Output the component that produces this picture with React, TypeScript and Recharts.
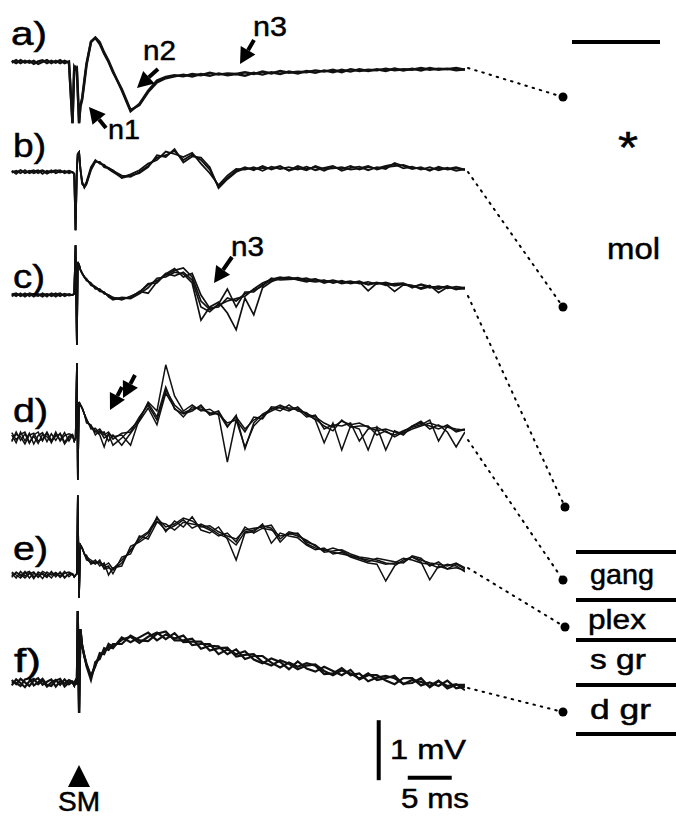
import React from 'react';
import { LineChart, Line, XAxis, YAxis, ReferenceLine } from 'recharts';

// sample times in ms relative to the stimulus (SM)
const time = [
  -7.5, -7, -6.5, -6, -5.5, -5, -4.5, -4, -3.5, -3, -2.5, -2, -1.5, -1,
  -0.6, -0.4, -0.25, -0.1, 0, 0.15, 0.3, 0.5, 0.75,
  1, 1.5, 2, 2.5, 3, 3.5, 4,
  5, 6, 7, 8, 9, 10, 11, 12, 13, 14,
  15, 16, 17, 18, 19, 20, 21, 22, 23, 24,
  25, 26, 27, 28, 29, 30, 31, 32, 33, 34,
  35, 36, 37, 38, 39, 40, 41, 42, 43, 44,
];

// field potentials in mV
const traceA1 = [
  0.02, -0.02, 0.03, -0.01, 0.02, -0.03, 0.01, 0.03, -0.02, 0.02, -0.01, 0.03, -0.02, 0.01,
  -1.02, -0.1, -0.08, -0.15, -0.45, -1.02, -0.75, -0.63, -0.35,
  -0.05, 0.33, 0.4, 0.3, 0.14, 0.0, -0.17,
  -0.45, -0.8, -0.72, -0.5, -0.34, -0.27, -0.24, -0.21, -0.24, -0.2,
  -0.23, -0.19, -0.22, -0.2, -0.23, -0.18, -0.21, -0.17, -0.2, -0.16,
  -0.19, -0.15, -0.18, -0.14, -0.17, -0.13, -0.16, -0.12, -0.15, -0.12,
  -0.15, -0.11, -0.14, -0.11, -0.14, -0.1, -0.13, -0.11, -0.14, -0.12,
];
const traceA2 = [
  -0.01, 0.03, -0.02, 0.02, -0.01, 0.02, -0.03, 0.0, 0.03, -0.02, 0.02, -0.02, 0.02, -0.01,
  -1.02, -0.08, -0.12, -0.1, -0.5, -1.02, -0.72, -0.6, -0.3,
  -0.02, 0.34, 0.41, 0.33, 0.16, 0.02, -0.15,
  -0.47, -0.82, -0.7, -0.48, -0.31, -0.25, -0.22, -0.24, -0.2, -0.22,
  -0.18, -0.21, -0.19, -0.2, -0.17, -0.2, -0.16, -0.19, -0.15, -0.18,
  -0.16, -0.17, -0.14, -0.16, -0.13, -0.17, -0.12, -0.15, -0.13, -0.14,
  -0.11, -0.14, -0.12, -0.13, -0.1, -0.13, -0.11, -0.12, -0.1, -0.13,
];

const traceB1 = [
  0.02, -0.03, 0.03, -0.02, 0.01, 0.03, -0.02, 0.02, -0.03, 0.01, 0.03, -0.01, 0.02, -0.02,
  0.0, -0.03, -0.97, 0.05, 0.3, 0.33, 0.05, -0.18, -0.25,
  -0.18, 0.05, 0.18, 0.16, 0.1, 0.07, 0.02,
  -0.06, -0.08, 0.0, 0.1, 0.24, 0.28, 0.35, 0.2, 0.29, 0.2,
  0.04, -0.25, -0.1, 0.02, 0.08, 0.03, 0.1, 0.04, 0.09, 0.03,
  0.1, 0.05, 0.08, 0.02, 0.09, 0.05, 0.1, 0.04, 0.08, 0.06,
  0.1, 0.13, 0.06, 0.09, 0.04, 0.08, 0.03, 0.07, 0.02, 0.05,
];
const traceB2 = [
  -0.01, 0.02, -0.02, 0.03, -0.02, 0.01, 0.03, -0.03, 0.02, -0.01, 0.02, 0.03, -0.02, 0.01,
  0.0, -0.03, -0.97, 0.05, 0.3, 0.33, 0.05, -0.2, -0.24,
  -0.16, 0.08, 0.2, 0.14, 0.12, 0.05, 0.0,
  -0.09, -0.04, 0.03, 0.14, 0.2, 0.34, 0.3, 0.25, 0.32, 0.14,
  -0.02, -0.22, -0.06, 0.05, 0.04, 0.08, 0.02, 0.09, 0.05, 0.08,
  0.04, 0.09, 0.03, 0.07, 0.1, 0.02, 0.07, 0.09, 0.03, 0.08,
  0.05, 0.15, 0.1, 0.05, 0.08, 0.02, 0.09, 0.04, 0.06, 0.03,
];
const traceB3 = [
  0.01, 0.0, 0.03, -0.01, 0.02, -0.02, 0.01, 0.03, -0.01, 0.03, -0.02, 0.01, 0.0, 0.02,
  0.0, -0.03, -0.97, 0.05, 0.3, 0.33, 0.05, -0.16, -0.26,
  -0.2, 0.03, 0.17, 0.17, 0.08, 0.06, 0.03,
  -0.1, -0.06, -0.02, 0.08, 0.28, 0.25, 0.38, 0.16, 0.26, 0.24,
  0.08, -0.27, -0.12, 0.0, 0.06, 0.05, 0.07, 0.06, 0.1, 0.02,
  0.07, 0.03, 0.1, 0.05, 0.06, 0.08, 0.04, 0.06, 0.1, 0.04,
  0.08, 0.1, 0.12, 0.07, 0.06, 0.04, 0.07, 0.05, 0.08, 0.04,
];

const traceC1 = [
  0.02, -0.02, 0.03, -0.03, 0.02, 0.0, -0.02, 0.03, -0.01, 0.02, -0.03, 0.02, -0.01, 0.02,
  0.0, 0.02, 0.83, -0.83, 0.55, 0.5, 0.42, 0.36, 0.3,
  0.26, 0.18, 0.14, 0.08, 0.04, -0.01, -0.06,
  -0.07, -0.03, 0.05, 0.17, 0.24, 0.33, 0.41, 0.45, 0.3, -0.1,
  -0.24, -0.17, -0.1, -0.06, -0.02, 0.1, 0.2, 0.26, 0.3, 0.27,
  0.29, 0.25, 0.27, 0.22, 0.25, 0.21, 0.23, 0.19, 0.22, 0.18,
  0.21, 0.17, 0.19, 0.14, 0.17, 0.12, 0.15, 0.11, 0.14, 0.12,
];
const traceC2 = [
  -0.02, 0.02, -0.01, 0.03, -0.02, 0.02, 0.01, -0.03, 0.02, 0.0, 0.03, -0.02, 0.02, -0.01,
  0.0, 0.02, 0.83, -0.83, 0.55, 0.5, 0.42, 0.36, 0.3,
  0.24, 0.2, 0.1, 0.1, 0.02, 0.0, -0.05,
  -0.05, -0.06, 0.02, 0.12, 0.28, 0.3, 0.38, 0.35, 0.2, -0.42,
  -0.2, -0.12, -0.3, -0.58, -0.05, -0.33, 0.12, 0.22, 0.28, 0.3,
  0.26, 0.28, 0.23, 0.25, 0.2, 0.24, 0.19, 0.22, 0.07, 0.2,
  0.18, 0.06, 0.17, 0.15, 0.12, 0.16, 0.04, 0.13, 0.11, 0.12,
];
const traceC3 = [
  0.01, 0.03, -0.02, 0.01, 0.02, -0.03, 0.02, 0.0, 0.02, -0.02, 0.01, 0.03, -0.02, 0.01,
  0.0, 0.02, 0.83, -0.83, 0.55, 0.5, 0.42, 0.36, 0.3,
  0.27, 0.16, 0.13, 0.06, 0.05, -0.03, -0.08,
  -0.04, -0.05, 0.06, 0.03, 0.22, 0.36, 0.32, 0.38, 0.25, -0.2,
  -0.28, -0.15, 0.1, -0.2, 0.05, 0.05, 0.17, 0.24, 0.27, 0.29,
  0.25, 0.22, 0.26, 0.2, 0.24, 0.19, 0.22, 0.2, 0.18, 0.21,
  0.16, 0.19, 0.2, 0.12, 0.18, 0.14, 0.13, 0.14, 0.09, 0.13,
];
const traceC4 = [
  -0.01, 0.0, 0.02, -0.02, 0.03, 0.01, -0.01, 0.02, -0.03, 0.03, 0.0, -0.01, 0.02, 0.0,
  0.0, 0.02, 0.83, -0.83, 0.55, 0.5, 0.42, 0.36, 0.3,
  0.25, 0.19, 0.12, 0.09, 0.03, 0.0, -0.04,
  -0.08, -0.02, 0.04, 0.19, 0.2, 0.35, 0.44, 0.3, 0.36, 0.0,
  -0.22, -0.2, -0.05, -0.1, 0.02, 0.08, 0.15, 0.28, 0.25, 0.26,
  0.27, 0.24, 0.22, 0.24, 0.21, 0.22, 0.2, 0.23, 0.17, 0.2,
  0.19, 0.15, 0.18, 0.16, 0.1, 0.14, 0.1, 0.15, 0.1, 0.1,
];

const traceD1 = [
  0.05, -0.08, 0.1, -0.05, 0.08, -0.1, 0.04, 0.09, -0.06, 0.07, -0.04, 0.08, -0.07, 0.03,
  0.05, -0.05, 0.0, 1.25, -0.7, 0.6, 0.55, 0.5, 0.4,
  0.3, 0.18, 0.1, 0.15, 0.05, 0.1, -0.02,
  0.08, 0.1, 0.35, 0.55, 0.3, 0.8, 0.55, 0.42, 0.48, 0.52,
  0.4, 0.45, 0.2, 0.35, 0.15, 0.3, 0.38, 0.45, 0.52, 0.5,
  0.5, 0.4, 0.35, 0.25, 0.18, 0.28, 0.22, 0.25, 0.18, 0.12,
  0.15, 0.1, 0.08, 0.15, 0.2, 0.25, 0.2, 0.18, 0.15, 0.13,
];
const traceD2 = [
  -0.06, 0.1, -0.04, 0.07, -0.09, 0.05, 0.1, -0.05, 0.08, -0.08, 0.06, -0.03, 0.09, -0.05,
  0.05, -0.05, 0.0, 1.25, -0.7, 0.6, 0.55, 0.5, 0.4,
  0.25, 0.22, 0.05, 0.12, 0.0, 0.06, -0.12,
  0.0, 0.15, 0.3, 0.6, 0.45, 1.22, 0.7, 0.45, 0.55, 0.45,
  0.48, 0.38, -0.4, 0.3, -0.15, 0.2, 0.35, 0.5, 0.45, 0.55,
  0.45, 0.42, 0.3, -0.08, 0.25, -0.2, 0.2, 0.15, -0.2, 0.18,
  -0.2, 0.12, 0.05, 0.2, 0.28, 0.15, 0.22, 0.1, -0.15, 0.1,
];
const traceD3 = [
  0.09, -0.03, 0.06, 0.1, -0.07, 0.03, -0.09, 0.06, 0.02, -0.06, 0.1, -0.05, 0.04, 0.07,
  0.05, -0.05, 0.0, 1.25, -0.7, 0.6, 0.55, 0.5, 0.4,
  0.32, 0.15, 0.16, 0.08, 0.1, -0.05, 0.05,
  -0.12, 0.08, 0.28, 0.5, 0.22, 0.75, 0.5, 0.35, 0.52, 0.48,
  0.42, 0.4, 0.25, 0.3, 0.1, 0.35, 0.32, 0.52, 0.5, 0.45,
  0.52, 0.38, 0.32, 0.2, 0.12, 0.3, 0.18, 0.2, 0.2, 0.05,
  0.12, 0.02, 0.1, 0.2, 0.25, 0.2, 0.15, 0.22, 0.12, 0.15,
];
const traceD4 = [
  -0.04, 0.06, 0.02, -0.1, 0.05, 0.08, -0.05, -0.02, 0.1, -0.04, 0.03, 0.07, -0.1, 0.0,
  0.05, -0.05, 0.0, 1.25, -0.7, 0.6, 0.55, 0.5, 0.4,
  0.28, 0.2, 0.12, 0.05, -0.15, 0.08, 0.02,
  0.05, -0.12, 0.32, 0.58, 0.35, 0.85, 0.48, 0.4, 0.45, 0.55,
  0.38, 0.42, 0.18, 0.38, -0.18, 0.25, 0.4, 0.48, 0.55, 0.48,
  0.48, 0.35, 0.38, 0.15, 0.22, 0.2, 0.25, -0.05, 0.15, 0.18,
  0.1, 0.05, 0.12, 0.18, 0.22, 0.3, -0.05, 0.2, 0.1, 0.14,
];

const traceE1 = [
  0.03, -0.05, 0.06, -0.02, 0.04, -0.06, 0.05, 0.01, -0.04, 0.06, -0.03, 0.05, -0.05, 0.02,
  0.02, -0.03, 0.0, 0.02, 1.33, -0.38, 0.5, 0.45, 0.35,
  0.3, 0.25, 0.2, 0.22, 0.15, 0.2, 0.1,
  0.25, 0.4, 0.62, 0.72, 0.95, 0.8, 0.85, 0.95, 0.9, 0.8,
  0.82, 0.72, 0.65, 0.6, 0.75, 0.78, 0.8, 0.83, 0.6, 0.72,
  0.68, 0.55, 0.5, 0.38, 0.4, 0.42, 0.35, 0.3, 0.28, 0.25,
  0.2, 0.18, 0.22, 0.3, 0.25, 0.2, 0.18, 0.15, 0.2, 0.12,
];
const traceE2 = [
  -0.04, 0.05, -0.02, 0.06, -0.05, 0.03, -0.03, 0.06, 0.02, -0.05, 0.04, -0.02, 0.06, -0.03,
  0.02, -0.03, 0.0, 0.02, 1.33, -0.38, 0.5, 0.45, 0.35,
  0.28, 0.2, 0.25, 0.15, 0.2, 0.0, 0.12,
  0.15, 0.48, 0.55, 0.65, 0.97, 0.72, 0.9, 0.8, 0.97, 0.75,
  0.7, 0.8, 0.6, 0.25, 0.7, 0.72, 0.85, 0.53, 0.7, 0.65,
  0.62, 0.5, 0.42, 0.45, 0.35, 0.38, 0.3, 0.25, 0.2, 0.18,
  -0.1, 0.15, 0.25, 0.3, 0.22, -0.08, 0.15, 0.1, 0.12, 0.08,
];
const traceE3 = [
  0.05, 0.0, -0.05, 0.03, 0.06, -0.03, 0.02, -0.06, 0.05, 0.0, 0.04, -0.04, 0.03, 0.05,
  0.02, -0.03, 0.0, 0.02, 1.33, -0.38, 0.5, 0.45, 0.35,
  0.33, 0.18, 0.22, 0.2, 0.12, 0.15, 0.02,
  0.3, 0.35, 0.65, 0.6, 0.88, 0.85, 0.75, 0.88, 0.85, 0.82,
  0.75, 0.65, 0.7, 0.55, 0.8, 0.7, 0.78, 0.75, 0.65, 0.68,
  0.7, 0.52, 0.45, 0.42, 0.38, 0.35, 0.32, 0.28, 0.22, 0.28,
  0.25, 0.22, 0.2, 0.32, 0.28, 0.15, 0.22, 0.1, 0.18, 0.1,
];
const traceE4 = [
  -0.02, 0.04, 0.01, -0.05, 0.02, 0.05, -0.04, 0.03, -0.02, 0.04, 0.0, 0.03, -0.03, 0.01,
  0.02, -0.03, 0.0, 0.02, 1.33, -0.38, 0.5, 0.45, 0.35,
  0.25, 0.22, 0.18, 0.25, 0.1, 0.12, 0.08,
  0.2, 0.42, 0.58, 0.7, 0.9, 0.75, 0.82, 0.92, 0.78, 0.85,
  0.78, 0.68, 0.62, 0.5, 0.72, 0.75, 0.82, 0.78, 0.55, 0.7,
  0.65, 0.58, 0.48, 0.4, 0.45, 0.4, 0.32, 0.28, 0.25, 0.22,
  0.18, 0.2, 0.28, 0.25, 0.2, 0.18, 0.12, 0.18, 0.15, 0.05,
];

const traceF1 = [
  0.05, -0.02, 0.07, 0.01, -0.05, 0.04, 0.08, -0.03, 0.02, 0.06, -0.06, 0.03, -0.01, 0.05,
  0.02, -0.04, 0.03, -0.02, 1.2, -0.5, 0.9, 0.62, 0.45,
  0.3, 0.1, 0.3, 0.45, 0.52, 0.6, 0.58,
  0.76, 0.68, 0.76, 0.84, 0.71, 0.81, 0.74, 0.79, 0.63, 0.65,
  0.65, 0.48, 0.56, 0.48, 0.53, 0.39, 0.33, 0.41, 0.35, 0.23,
  0.36, 0.24, 0.19, 0.27, 0.2, 0.13, 0.22, 0.06, 0.13, 0.13,
  0.04, -0.02, 0.08, 0.08, -0.04, 0.01, -0.05, 0.04, -0.09, -0.06,
];
const traceF2 = [
  -0.04, 0.06, 0.0, -0.07, 0.03, 0.07, -0.02, 0.04, -0.06, 0.01, 0.05, -0.03, 0.06, -0.02,
  0.02, -0.04, 0.03, -0.02, 1.2, -0.5, 0.9, 0.62, 0.45,
  0.28, 0.05, 0.35, 0.4, 0.58, 0.55, 0.65,
  0.65, 0.79, 0.71, 0.7, 0.82, 0.86, 0.71, 0.71, 0.74, 0.57,
  0.62, 0.61, 0.48, 0.56, 0.4, 0.45, 0.45, 0.34, 0.26, 0.34,
  0.27, 0.33, 0.29, 0.15, 0.16, 0.25, 0.13, 0.16, 0.03, 0.09,
  0.12, 0.08, -0.01, 0.0, 0.08, -0.07, 0.03, -0.05, -0.02, -0.12,
];
const traceF3 = [
  0.02, 0.0, -0.05, 0.06, 0.08, -0.04, 0.01, 0.07, -0.03, -0.05, 0.04, 0.07, -0.06, 0.01,
  0.02, -0.04, 0.03, -0.02, 1.2, -0.5, 0.9, 0.62, 0.45,
  0.32, 0.12, 0.28, 0.5, 0.48, 0.65, 0.6,
  0.72, 0.77, 0.67, 0.77, 0.84, 0.73, 0.83, 0.68, 0.69, 0.69,
  0.54, 0.58, 0.59, 0.44, 0.47, 0.48, 0.35, 0.29, 0.38, 0.32,
  0.23, 0.29, 0.31, 0.2, 0.13, 0.21, 0.16, 0.07, 0.16, 0.05,
  0.08, 0.12, -0.02, 0.05, 0.02, -0.05, 0.04, -0.09, -0.03, -0.03,
];

const FONT = '"Liberation Sans", Arial, Helvetica, sans-serif';
const PX_PER_MS = 8.8;
const PX_PER_MV = 60;
const T_MIN = -7.7;
const T_MAX = 44;
const V_MAX = 1.5;
const V_MIN = -2.5;
const LEFT = 10;

const panels = [
  { key: 'a', traces: [traceA1, traceA2], base: 62, stroke: 2.4 },
  { key: 'b', traces: [traceB1, traceB2, traceB3], base: 172, stroke: 1.8 },
  { key: 'c', traces: [traceC1, traceC2, traceC3, traceC4], base: 295, stroke: 1.7 },
  { key: 'd', traces: [traceD1, traceD2, traceD3, traceD4], base: 438, stroke: 1.5 },
  { key: 'e', traces: [traceE1, traceE2, traceE3, traceE4], base: 575, stroke: 1.5 },
  { key: 'f', traces: [traceF1, traceF2, traceF3], base: 683, stroke: 2.2 },
];

function TracePanel({ traces, base, stroke, children }: any) {
  const data = time.map((t, i) => {
    const row: Record<string, number> = { t };
    traces.forEach((tr: number[], k: number) => {
      row['v' + k] = tr[i];
    });
    return row;
  });
  return (
    <div style={{ position: 'absolute', left: LEFT, top: base - V_MAX * PX_PER_MV }}>
      <LineChart
        width={(T_MAX - T_MIN) * PX_PER_MS}
        height={(V_MAX - V_MIN) * PX_PER_MV}
        data={data}
        margin={{ top: 0, right: 0, bottom: 0, left: 0 }}
      >
        <XAxis type="number" dataKey="t" domain={[T_MIN, T_MAX]} hide allowDataOverflow />
        <YAxis type="number" domain={[V_MIN, V_MAX]} hide allowDataOverflow />
        {traces.map((_: number[], k: number) => (
          <Line
            key={k}
            type="linear"
            dataKey={'v' + k}
            stroke="#111"
            strokeWidth={stroke}
            dot={false}
            isAnimationActive={false}
          />
        ))}
        {children}
      </LineChart>
    </div>
  );
}

function Arrow({ x1, y1, x2, y2 }: any) {
  const dx = x2 - x1;
  const dy = y2 - y1;
  const len = Math.hypot(dx, dy);
  const ux = dx / len;
  const uy = dy / len;
  const head = 16;
  const half = 8.5;
  const bx = x2 - ux * head;
  const by = y2 - uy * head;
  const pts = `${x2},${y2} ${bx - uy * half},${by + ux * half} ${bx + uy * half},${by - ux * half}`;
  return (
    <g>
      <line x1={x1} y1={y1} x2={bx} y2={by} stroke="#000" strokeWidth={4} />
      <polygon points={pts} fill="#000" />
    </g>
  );
}

function Txt({ x, y, size, w, children }: any) {
  return (
    <text
      x={x}
      y={y}
      fontSize={size}
      fontFamily={FONT}
      fill="#000"
      stroke="#000"
      strokeWidth={0.5}
      textLength={w}
      lengthAdjust="spacingAndGlyphs"
    >
      {children}
    </text>
  );
}

// dotted connectors: trace end -> recording site
const links = [
  [468, 68, 563, 97],
  [468, 172, 563, 307],
  [468, 296, 565, 507],
  [468, 440, 563, 580],
  [468, 568, 565, 627],
  [468, 688, 563, 712],
];

export default function App() {
  return (
    <div style={{ position: 'absolute', left: 0, top: 0, width: 676, height: 816, background: '#fff' }}>
      {panels.map((p) => (
        <TracePanel key={p.key} traces={p.traces} base={p.base} stroke={p.stroke}>
          {p.key === 'f' && [
            <ReferenceLine key="v" segment={[{ x: 34.2, y: -0.62 }, { x: 34.2, y: -1.62 }]} stroke="#000" strokeWidth={4} />,
            <ReferenceLine key="h" segment={[{ x: 37.5, y: -1.58 }, { x: 42.5, y: -1.58 }]} stroke="#000" strokeWidth={4} />,
          ]}
        </TracePanel>
      ))}
      <svg width={676} height={816} style={{ position: 'absolute', left: 0, top: 0 }}>
        <Txt x={11} y={45} size={34} w={36}>a)</Txt>
        <Txt x={13} y={157} size={34} w={33}>b)</Txt>
        <Txt x={13} y={288} size={34} w={32}>c)</Txt>
        <Txt x={13} y={422} size={34} w={35}>d)</Txt>
        <Txt x={13} y={560} size={34} w={35}>e)</Txt>
        <Txt x={14} y={672} size={34} w={27}>f)</Txt>

        <Arrow x1={106} y1={128} x2={89} y2={107} />
        <Txt x={108} y={139} size={28} w={32}>n1</Txt>
        <Arrow x1={158} y1={69} x2={137} y2={88} />
        <Txt x={143} y={60} size={28} w={33}>n2</Txt>
        <Arrow x1={254} y1={40} x2={240} y2={64} />
        <Txt x={253} y={36} size={28} w={34}>n3</Txt>
        <Arrow x1={232} y1={257} x2={214} y2={283} />
        <Txt x={231} y={256} size={28} w={33}>n3</Txt>
        <Arrow x1={122} y1={387} x2={110} y2={410} />
        <Arrow x1={135} y1={375} x2={123} y2={398} />

        {links.map(([x1, y1, x2, y2], i) => (
          <g key={i}>
            <line x1={x1} y1={y1} x2={x2} y2={y2} stroke="#000" strokeWidth={2} strokeDasharray="1.5 6" strokeLinecap="round" />
            <circle cx={x2} cy={y2} r={4.5} fill="#000" />
          </g>
        ))}

        <line x1={572} y1={42} x2={660} y2={42} stroke="#000" strokeWidth={4} />
        <Txt x={618} y={163} size={44} w={20}>*</Txt>
        <Txt x={607} y={259} size={30} w={53}>mol</Txt>
        {[552, 600, 640, 685, 734].map((y) => (
          <line key={y} x1={576} y1={y} x2={676} y2={y} stroke="#000" strokeWidth={4} />
        ))}
        <Txt x={590} y={584} size={28} w={64}>gang</Txt>
        <Txt x={588} y={629} size={28} w={58}>plex</Txt>
        <Txt x={590} y={669} size={28} w={56}>s gr</Txt>
        <Txt x={590} y={719} size={28} w={61}>d gr</Txt>

        <Txt x={390} y={759} size={28} w={76}>1 mV</Txt>
        <Txt x={401} y={808} size={28} w={68}>5 ms</Txt>

        <polygon points="79,765 68,787 90,787" fill="#000" />
        <Txt x={58} y={811} size={28} w={42}>SM</Txt>
      </svg>
    </div>
  );
}
